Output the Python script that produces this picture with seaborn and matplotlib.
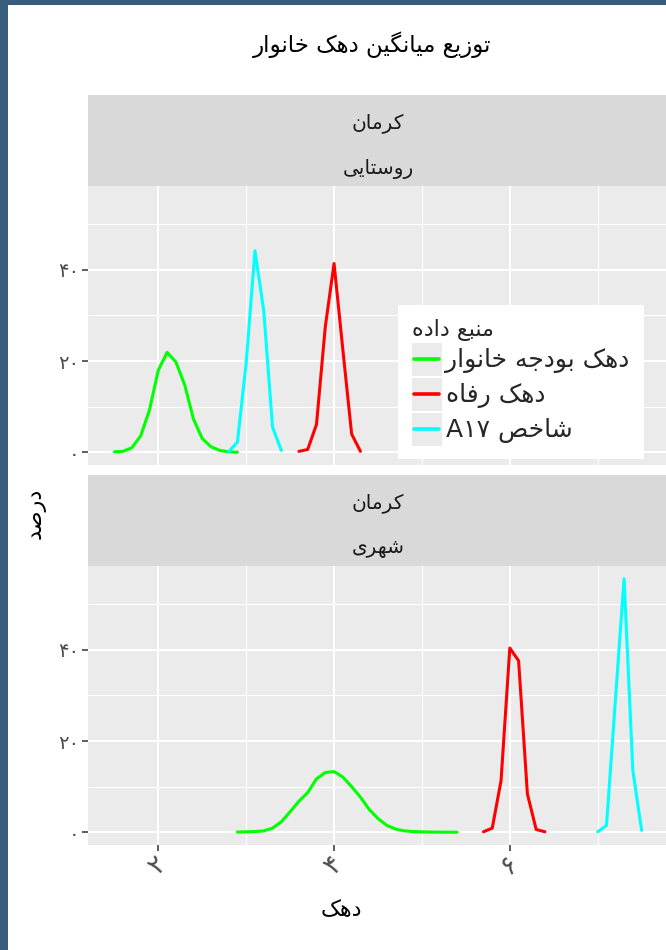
import numpy as np
import pandas as pd
import matplotlib
matplotlib.use("Agg")
import matplotlib.pyplot as plt
import seaborn as sns
from matplotlib.legend_handler import HandlerLine2D
from matplotlib.patches import Rectangle
from matplotlib.lines import Line2D
from matplotlib.ticker import MultipleLocator

# ---------------- data ----------------
title = "توزیع میانگین دهک خانوار"
x_label = "دهک"
y_label = "درصد"
legend_title = "منبع داده"
province = "کرمان"
areas = ["روستایی", "شهری"]
sources = ["دهک بودجه خانوار", "دهک رفاه", "شاخص A۱۷"]
colors = ["#00ff00", "#ff0000", "#00ffff"]
x_ticks = [2, 4, 6]
x_tick_labels = ["۲", "۴", "۶"]
y_ticks = [0, 20, 40]
y_tick_labels = ["۰", "۲۰", "۴۰"]

# rural (روستایی)
rural_budget_x = [1.5, 1.6, 1.7, 1.8, 1.9, 2.0, 2.1, 2.2, 2.3, 2.4, 2.5, 2.6, 2.7, 2.8, 2.9]
rural_budget_y = [0.1, 0.2, 1.0, 3.6, 9.3, 18.0, 21.9, 19.8, 14.8, 7.3, 3.0, 1.2, 0.4, 0.1, 0.0]
rural_refah_x = [3.6, 3.7, 3.8, 3.9, 4.0, 4.1, 4.2, 4.3]
rural_refah_y = [0.2, 0.6, 6.1, 27.5, 41.4, 22.5, 4.0, 0.2]
rural_a17_x = [2.8, 2.9, 3.0, 3.1, 3.2, 3.3, 3.4]
rural_a17_y = [0.1, 2.2, 19.6, 44.2, 31.0, 5.5, 0.4]

# urban (شهری)
urban_budget_x = [2.9, 3.0, 3.1, 3.2, 3.3, 3.4, 3.5, 3.6, 3.7, 3.8, 3.9, 4.0, 4.1,
                  4.2, 4.3, 4.4, 4.5, 4.6, 4.7, 4.8, 4.9, 5.0, 5.1, 5.2, 5.3, 5.4]
urban_budget_y = [0.05, 0.1, 0.15, 0.3, 0.9, 2.3, 4.5, 6.8, 8.7, 11.7, 13.1, 13.3, 12.1,
                  10.0, 7.7, 5.0, 3.0, 1.5, 0.7, 0.3, 0.15, 0.08, 0.04, 0.02, 0.01, 0.0]
urban_refah_x = [5.7, 5.8, 5.9, 6.0, 6.1, 6.2, 6.3, 6.4]
urban_refah_y = [0.1, 0.9, 11.3, 40.4, 37.6, 8.4, 0.6, 0.1]
urban_a17_x = [7.0, 7.1, 7.2, 7.3, 7.4, 7.5]
urban_a17_y = [0.1, 1.5, 28.6, 55.6, 13.5, 0.4]


# ---------------- persian shaping (matplotlib has no text shaping) ----------------
FORMS = {
    "ا": "\uFE8D\uFE8E", "آ": "\uFE81\uFE82", "د": "\uFEA9\uFEAA", "ذ": "\uFEAB\uFEAC",
    "ر": "\uFEAD\uFEAE", "ز": "\uFEAF\uFEB0", "ژ": "\uFB8A\uFB8B", "و": "\uFEED\uFEEE",
    "ب": "\uFE8F\uFE90\uFE91\uFE92", "پ": "\uFB56\uFB57\uFB58\uFB59",
    "ت": "\uFE95\uFE96\uFE97\uFE98", "ث": "\uFE99\uFE9A\uFE9B\uFE9C",
    "ج": "\uFE9D\uFE9E\uFE9F\uFEA0", "چ": "\uFB7A\uFB7B\uFB7C\uFB7D",
    "ح": "\uFEA1\uFEA2\uFEA3\uFEA4", "خ": "\uFEA5\uFEA6\uFEA7\uFEA8",
    "س": "\uFEB1\uFEB2\uFEB3\uFEB4", "ش": "\uFEB5\uFEB6\uFEB7\uFEB8",
    "ص": "\uFEB9\uFEBA\uFEBB\uFEBC", "ض": "\uFEBD\uFEBE\uFEBF\uFEC0",
    "ط": "\uFEC1\uFEC2\uFEC3\uFEC4", "ظ": "\uFEC5\uFEC6\uFEC7\uFEC8",
    "ع": "\uFEC9\uFECA\uFECB\uFECC", "غ": "\uFECD\uFECE\uFECF\uFED0",
    "ف": "\uFED1\uFED2\uFED3\uFED4", "ق": "\uFED5\uFED6\uFED7\uFED8",
    "ک": "\uFB8E\uFB8F\uFB90\uFB91", "گ": "\uFB92\uFB93\uFB94\uFB95",
    "ل": "\uFEDD\uFEDE\uFEDF\uFEE0", "م": "\uFEE1\uFEE2\uFEE3\uFEE4",
    "ن": "\uFEE5\uFEE6\uFEE7\uFEE8", "ه": "\uFEE9\uFEEA\uFEEB\uFEEC",
    "ی": "\uFBFC\uFBFD\uFBFE\uFBFF", "ي": "\uFEF1\uFEF2\uFEF3\uFEF4",
}


def shape(word):
    out = []
    for i, ch in enumerate(word):
        f = FORMS.get(ch)
        if f is None:
            out.append(ch)
            continue
        prev = word[i - 1] if i > 0 else None
        nxt = word[i + 1] if i < len(word) - 1 else None
        jp = prev in FORMS and len(FORMS[prev]) == 4
        jn = nxt in FORMS and len(f) == 4
        if jp and jn:
            out.append(f[3])
        elif jp:
            out.append(f[1])
        elif jn:
            out.append(f[2])
        else:
            out.append(f[0])
    return "".join(out)


def fa(text):
    res = []
    for w in reversed(text.split(" ")):
        res.append(shape(w)[::-1] if any(c in FORMS for c in w) else w)
    return " ".join(res)


rows = []
series = [
    (areas[0], sources[0], rural_budget_x, rural_budget_y),
    (areas[0], sources[1], rural_refah_x, rural_refah_y),
    (areas[0], sources[2], rural_a17_x, rural_a17_y),
    (areas[1], sources[0], urban_budget_x, urban_budget_y),
    (areas[1], sources[1], urban_refah_x, urban_refah_y),
    (areas[1], sources[2], urban_a17_x, urban_a17_y),
]
for area, src, xs, ys in series:
    for xv, yv in zip(xs, ys):
        rows.append({"area": area, "source": fa(src), "x": xv, "y": yv})
df = pd.DataFrame(rows)
hue_order = [fa(s) for s in sources]

# ---------------- style ----------------
sns.set_theme(style="darkgrid", rc={
    "axes.facecolor": "#ebebeb",
    "grid.color": "white",
})
plt.rcParams["font.family"] = ["DejaVu Sans"]

W, H = 666, 950
fig = plt.figure(figsize=(W / 100, H / 100), dpi=100, facecolor="white")


def box(x0, y0, x1, y1):
    return [x0 / W, 1 - y1 / H, (x1 - x0) / W, (y1 - y0) / H]


class KeyHandler(HandlerLine2D):
    def create_artists(self, legend, orig_handle, xdescent, ydescent,
                       width, height, fontsize, trans):
        bg = Rectangle((-xdescent, -ydescent), width, height,
                       facecolor="#ebebeb", edgecolor="none", transform=trans)
        ln = Line2D([-xdescent + 0.08 * width, -xdescent + 0.92 * width],
                    [height / 2 - ydescent] * 2, color=orig_handle.get_color(),
                    lw=2.6, transform=trans)
        return [bg, ln]


panels = [(88, 186, 668, 465), (88, 566, 668, 845)]
strips = [[(88, 95, 668, 141), (88, 141, 668, 186)],
          [(88, 475, 668, 521), (88, 521, 668, 566)]]

for i, area in enumerate(areas):
    ax = fig.add_axes(box(*panels[i]))
    sub = df[df["area"] == area]
    sns.lineplot(data=sub, x="x", y="y", hue="source", hue_order=hue_order,
                 palette=colors, estimator=None, sort=False, linewidth=2.2,
                 legend=(i == 0), ax=ax)
    ax.set_xlim(1.2, 7.8)
    ax.set_ylim(-2.8, 58.4)
    ax.set_xticks(x_ticks)
    ax.set_yticks(y_ticks)
    ax.set_yticklabels(y_tick_labels)
    ax.xaxis.set_minor_locator(MultipleLocator(1))
    ax.yaxis.set_minor_locator(MultipleLocator(10))
    ax.grid(which="major", color="white", linewidth=1.5)
    ax.grid(which="minor", color="white", linewidth=0.8)
    ax.tick_params(which="minor", length=0)
    ax.tick_params(axis="y", which="major", left=True, length=4.3, width=1.1,
                   color="#333333", labelcolor="#4d4d4d", labelsize=14, pad=2)
    ax.set_xlabel("")
    ax.set_ylabel("")
    for s in ax.spines.values():
        s.set_visible(False)
    if i == 0:
        ax.tick_params(axis="x", which="major", length=0, labelbottom=False)
        handles, labels = ax.get_legend_handles_labels()
        leg = ax.legend(handles, labels, title=fa(legend_title),
                        handler_map={Line2D: KeyHandler()},
                        loc="upper left", bbox_to_anchor=(398 / W, 1 - 305 / H),
                        bbox_transform=fig.transFigure, frameon=True,
                        facecolor="white", edgecolor="none", framealpha=1,
                        fancybox=False, fontsize=18, title_fontsize=16,
                        alignment="left", handlelength=1.2, handleheight=1.65,
                        labelspacing=0.08, handletextpad=0.15, borderpad=0.55,
                        borderaxespad=0)
    else:
        ax.set_xticklabels(x_tick_labels, rotation=45)
        ax.tick_params(axis="x", which="major", bottom=True, length=4.3, width=1.1,
                       color="#333333", labelcolor="#4d4d4d", labelsize=19, pad=0)

    for j, txt in enumerate([province, area]):
        sax = fig.add_axes(box(*strips[i][j]))
        sax.set_facecolor("#d9d9d9")
        sax.set_xticks([])
        sax.set_yticks([])
        sax.grid(False)
        for s in sax.spines.values():
            s.set_visible(False)
        sax.text((378 - 88) / 580, 0.38, fa(txt), ha="center", va="center",
                 fontsize=14.5, color="#1a1a1a", transform=sax.transAxes)

fig.text(372 / W, 1 - 45 / H, fa(title), ha="center", va="center", fontsize=16.5,
         color="black")
fig.text(341 / W, 1 - 910 / H, fa(x_label), ha="center", va="center", fontsize=16,
         color="black")
fig.text(36 / W, 1 - 513 / H, fa(y_label), ha="center", va="center", fontsize=16,
         rotation=90, color="black")

# screenshot frame
fig.add_artist(Rectangle((0, 0), 8 / W, 1, transform=fig.transFigure,
                         facecolor="#385d7c", edgecolor="none", zorder=10))
fig.add_artist(Rectangle((0, 1 - 5 / H), 1, 5 / H, transform=fig.transFigure,
                         facecolor="#385d7c", edgecolor="none", zorder=10))

fig.savefig("out.png", dpi=100, facecolor="white")
